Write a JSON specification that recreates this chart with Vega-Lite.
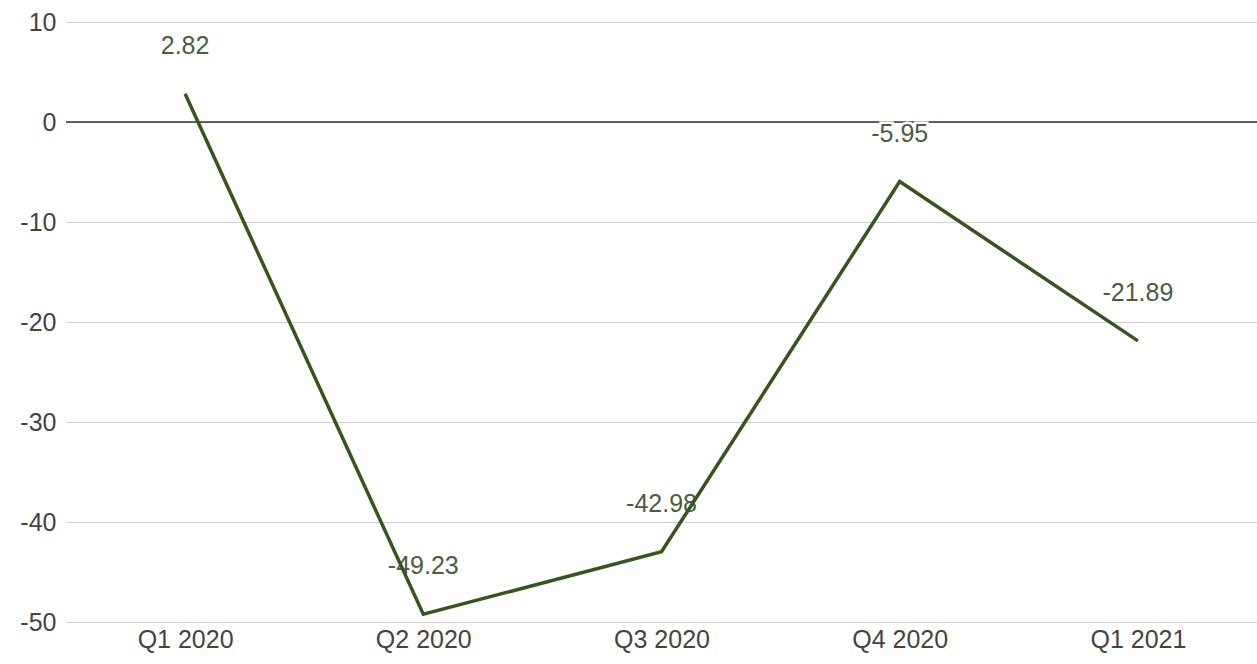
{
  "$schema": "https://vega.github.io/schema/vega-lite/v6.json",
  "width": 1191,
  "height": 600,
  "autosize": {"type": "none"},
  "padding": {"left": 66, "top": 22, "right": 0, "bottom": 42},
  "background": "white",
  "config": {
    "view": {"stroke": null},
    "font": "Liberation Sans",
    "locale": {
      "number": {"decimal": ".", "thousands": ",", "grouping": [3], "currency": ["$", ""], "minus": "-"}
    }
  },
  "data": {
    "values": [
      {"quarter": "Q1 2020", "value": 2.82},
      {"quarter": "Q2 2020", "value": -49.23},
      {"quarter": "Q3 2020", "value": -42.98},
      {"quarter": "Q4 2020", "value": -5.95},
      {"quarter": "Q1 2021", "value": -21.89}
    ]
  },
  "encoding": {
    "x": {
      "field": "quarter",
      "type": "ordinal",
      "sort": null,
      "scale": {"type": "point", "padding": 0.5},
      "axis": {
        "title": null,
        "domain": false,
        "ticks": false,
        "labelAngle": 0,
        "labelFontSize": 25,
        "labelColor": "#444444",
        "labelPadding": 5,
        "grid": false
      }
    },
    "y": {
      "field": "value",
      "type": "quantitative",
      "scale": {"domain": [-50, 10], "nice": false, "zero": false},
      "axis": {
        "title": null,
        "values": [-50, -40, -30, -20, -10, 0, 10],
        "domain": false,
        "ticks": false,
        "labelFontSize": 25,
        "labelColor": "#444444",
        "labelPadding": 10,
        "gridColor": "#d0d0d0",
        "gridWidth": 1
      }
    }
  },
  "layer": [
    {
      "data": {"values": [{"zero": 0}]},
      "mark": {"type": "rule", "color": "#333333", "strokeWidth": 1.5},
      "encoding": {
        "x": null,
        "y": {"field": "zero", "type": "quantitative"}
      }
    },
    {
      "mark": {"type": "text", "dy": -48, "fontSize": 25, "stroke": "white", "strokeWidth": 5, "color": "white"},
      "encoding": {"text": {"field": "value", "type": "quantitative", "format": ".2f"}}
    },
    {
      "mark": {"type": "text", "dy": -48, "fontSize": 25, "color": "#4b5d3f"},
      "encoding": {"text": {"field": "value", "type": "quantitative", "format": ".2f"}}
    },
    {
      "mark": {"type": "line", "color": "#38561c", "strokeWidth": 3.5}
    }
  ]
}
